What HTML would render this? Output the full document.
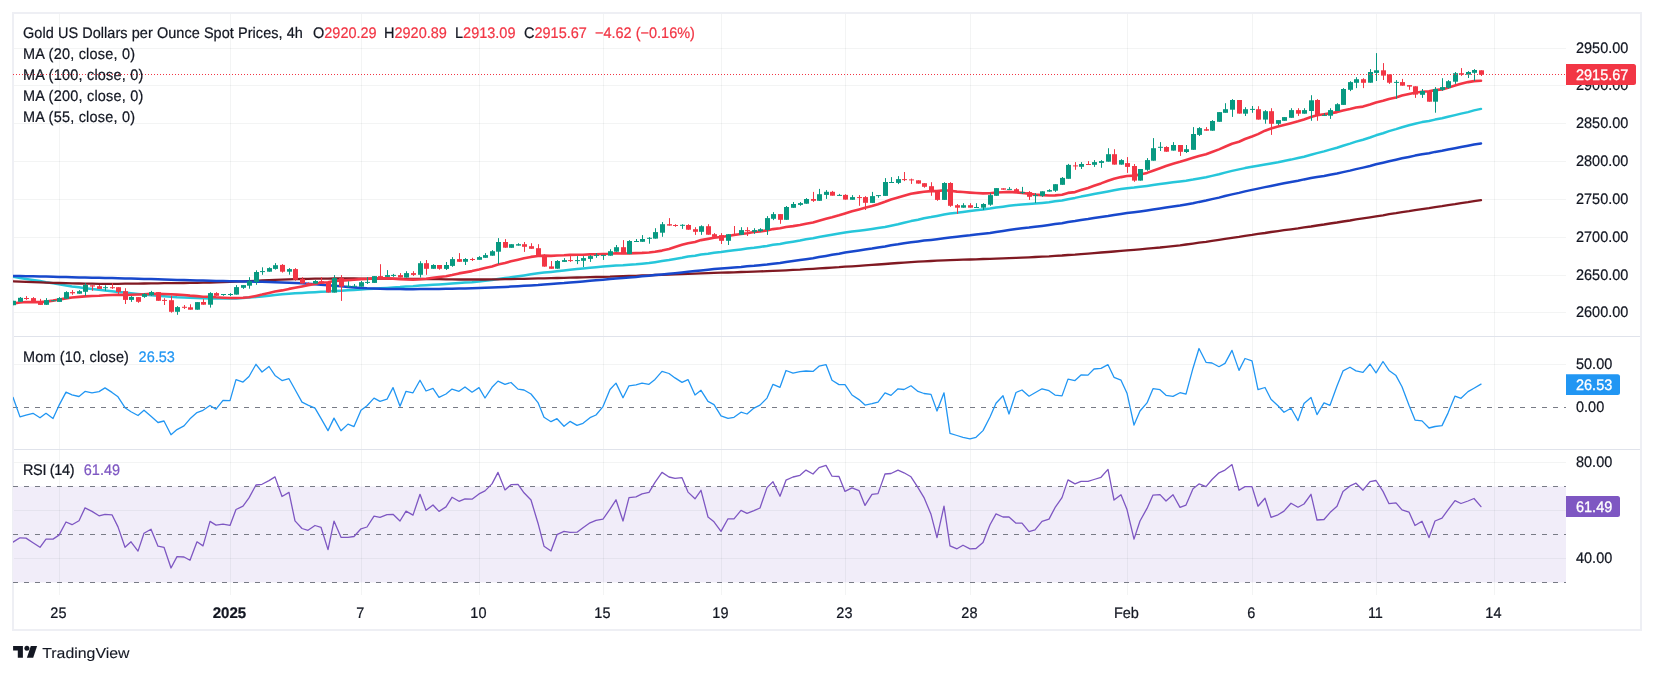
<!DOCTYPE html>
<html><head><meta charset="utf-8"><title>chart</title>
<style>
html,body{margin:0;padding:0;background:#fff;}
body{width:1654px;height:674px;overflow:hidden;position:relative;font-family:"Liberation Sans", sans-serif;}
svg{position:absolute;left:0;top:0;will-change:transform;opacity:0.999;}
text{font-family:"Liberation Sans", sans-serif;text-rendering:geometricPrecision;}
</style></head><body>
<svg width="1654" height="674" viewBox="0 0 1654 674">
<rect x="0" y="0" width="1654" height="674" fill="#ffffff"/>

<rect x="13" y="13" width="1628" height="617" fill="none" stroke="#EEEFF4" stroke-width="2"/>
<rect x="13" y="486.5" width="1553" height="96" fill="#F1EDF9"/>
<rect x="59" y="14" width="1" height="581" fill="#2A2E39" fill-opacity="0.056"/>
<rect x="230" y="14" width="1" height="581" fill="#2A2E39" fill-opacity="0.056"/>
<rect x="361" y="14" width="1" height="581" fill="#2A2E39" fill-opacity="0.056"/>
<rect x="479" y="14" width="1" height="581" fill="#2A2E39" fill-opacity="0.056"/>
<rect x="603" y="14" width="1" height="581" fill="#2A2E39" fill-opacity="0.056"/>
<rect x="721" y="14" width="1" height="581" fill="#2A2E39" fill-opacity="0.056"/>
<rect x="845" y="14" width="1" height="581" fill="#2A2E39" fill-opacity="0.056"/>
<rect x="970" y="14" width="1" height="581" fill="#2A2E39" fill-opacity="0.056"/>
<rect x="1127" y="14" width="1" height="581" fill="#2A2E39" fill-opacity="0.056"/>
<rect x="1252" y="14" width="1" height="581" fill="#2A2E39" fill-opacity="0.056"/>
<rect x="1376" y="14" width="1" height="581" fill="#2A2E39" fill-opacity="0.056"/>
<rect x="1494" y="14" width="1" height="581" fill="#2A2E39" fill-opacity="0.056"/>
<rect x="14" y="48" width="1552" height="1" fill="#2A2E39" fill-opacity="0.056"/>
<rect x="14" y="85" width="1552" height="1" fill="#2A2E39" fill-opacity="0.056"/>
<rect x="14" y="123" width="1552" height="1" fill="#2A2E39" fill-opacity="0.056"/>
<rect x="14" y="161" width="1552" height="1" fill="#2A2E39" fill-opacity="0.056"/>
<rect x="14" y="199" width="1552" height="1" fill="#2A2E39" fill-opacity="0.056"/>
<rect x="14" y="237" width="1552" height="1" fill="#2A2E39" fill-opacity="0.056"/>
<rect x="14" y="275" width="1552" height="1" fill="#2A2E39" fill-opacity="0.056"/>
<rect x="14" y="312" width="1552" height="1" fill="#2A2E39" fill-opacity="0.056"/>
<rect x="14" y="364" width="1552" height="1" fill="#2A2E39" fill-opacity="0.056"/>
<rect x="14" y="462" width="1552" height="1" fill="#2A2E39" fill-opacity="0.056"/>
<rect x="14" y="510" width="1552" height="1" fill="#2A2E39" fill-opacity="0.056"/>
<rect x="14" y="558" width="1552" height="1" fill="#2A2E39" fill-opacity="0.056"/>
<rect x="14" y="336" width="1626" height="1" fill="#E0E3EB"/>
<rect x="14" y="449" width="1626" height="1" fill="#E0E3EB"/>
<line x1="13" y1="407.5" x2="1566" y2="407.5" stroke="#787B86" stroke-width="1" stroke-dasharray="5,6"/>
<line x1="13" y1="486.5" x2="1566" y2="486.5" stroke="#787B86" stroke-width="1" stroke-dasharray="5,6"/>
<line x1="13" y1="534.5" x2="1566" y2="534.5" stroke="#787B86" stroke-width="1" stroke-dasharray="5,6"/>
<line x1="13" y1="582.5" x2="1566" y2="582.5" stroke="#787B86" stroke-width="1" stroke-dasharray="5,6"/>
<defs><clipPath id="pc"><rect x="13" y="14" width="1553" height="581"/></clipPath></defs>
<g clip-path="url(#pc)">
<polyline points="13.6,276.8 20.0,277.9 26.0,278.9 33.0,280.0 40.0,281.1 46.0,282.2 53.0,283.3 59.0,284.3 66.0,285.4 72.0,286.4 79.0,287.3 85.0,288.2 92.0,289.0 99.0,289.8 105.0,290.6 112.0,291.3 118.0,291.9 125.0,292.6 131.0,293.2 138.0,293.9 144.0,294.5 151.0,295.2 158.0,295.8 164.0,296.3 171.0,296.8 177.0,297.2 184.0,297.5 190.0,297.8 197.0,298.1 203.0,298.3 210.0,298.5 216.0,298.6 223.0,298.6 230.0,298.6 236.0,298.4 243.0,298.1 249.0,297.6 256.0,297.0 262.0,296.4 269.0,295.7 275.0,295.0 282.0,294.3 289.0,293.8 295.0,293.3 302.0,292.9 308.0,292.6 315.0,292.2 321.0,291.8 328.0,291.5 334.0,291.1 341.0,290.7 348.0,290.3 354.0,289.9 361.0,289.5 367.0,289.1 374.0,288.7 380.0,288.3 387.0,287.9 393.0,287.5 400.0,287.1 406.0,286.6 413.0,286.2 420.0,285.6 426.0,285.2 433.0,284.7 439.0,284.4 446.0,284.0 452.0,283.6 459.0,283.1 465.0,282.6 472.0,282.2 479.0,281.6 485.0,280.8 492.0,280.0 498.0,278.9 505.0,278.1 511.0,277.3 518.0,276.3 524.0,275.4 531.0,274.2 538.0,273.3 544.0,272.6 551.0,271.9 557.0,271.2 564.0,270.4 570.0,269.8 577.0,269.1 583.0,268.5 590.0,267.8 596.0,267.2 603.0,266.6 610.0,266.1 616.0,265.6 623.0,265.3 629.0,264.8 636.0,264.3 642.0,263.7 649.0,263.1 655.0,262.2 662.0,261.1 669.0,260.0 675.0,258.9 682.0,257.8 688.0,256.6 695.0,255.8 701.0,254.6 708.0,253.7 714.0,252.7 721.0,252.0 728.0,251.1 734.0,250.3 741.0,249.4 747.0,248.6 754.0,247.8 760.0,246.9 767.0,245.9 773.0,244.8 780.0,244.0 786.0,242.8 793.0,241.7 800.0,240.5 806.0,239.3 813.0,238.3 819.0,237.1 826.0,235.8 832.0,234.7 839.0,233.5 845.0,232.5 852.0,231.5 859.0,230.7 865.0,229.9 872.0,229.0 878.0,228.1 885.0,226.9 891.0,225.7 898.0,224.3 904.0,222.7 911.0,221.1 918.0,219.7 924.0,218.3 931.0,217.1 937.0,215.9 944.0,214.6 950.0,213.6 957.0,212.8 963.0,211.9 970.0,211.0 976.0,210.3 983.0,209.4 990.0,208.6 996.0,207.6 1003.0,206.7 1009.0,205.8 1016.0,205.1 1022.0,204.5 1029.0,204.0 1035.0,203.5 1042.0,202.9 1049.0,202.2 1055.0,201.3 1062.0,200.5 1068.0,199.2 1075.0,197.9 1081.0,196.6 1088.0,195.3 1094.0,194.1 1101.0,192.8 1108.0,191.5 1114.0,190.3 1121.0,189.1 1127.0,188.2 1134.0,187.6 1140.0,186.8 1147.0,185.9 1153.0,185.0 1160.0,184.0 1166.0,183.2 1173.0,182.2 1180.0,181.4 1186.0,180.7 1193.0,179.6 1199.0,178.4 1206.0,177.2 1212.0,175.9 1219.0,174.3 1225.0,172.6 1232.0,170.9 1239.0,169.4 1245.0,168.1 1252.0,166.8 1258.0,165.7 1265.0,164.5 1271.0,163.5 1278.0,162.3 1284.0,161.0 1291.0,159.6 1298.0,158.0 1304.0,156.7 1311.0,154.7 1317.0,153.1 1324.0,151.4 1330.0,149.6 1337.0,147.8 1343.0,145.7 1350.0,143.6 1356.0,141.6 1363.0,139.7 1370.0,137.5 1376.0,135.3 1383.0,133.2 1389.0,131.1 1396.0,129.1 1402.0,127.2 1409.0,125.3 1415.0,123.7 1422.0,122.1 1429.0,121.0 1435.0,119.6 1442.0,118.2 1448.0,116.7 1455.0,115.1 1461.0,113.6 1468.0,112.1 1474.0,110.4 1481.0,108.9" fill="none" stroke="#26C6DA" stroke-width="2.5" stroke-linejoin="round" stroke-linecap="round" />
<polyline points="13.6,281.3 20.0,281.6 26.0,281.8 33.0,282.1 40.0,282.3 46.0,282.6 53.0,282.8 59.0,283.0 66.0,283.2 72.0,283.4 79.0,283.5 85.0,283.7 92.0,283.7 99.0,283.8 105.0,283.8 112.0,283.8 118.0,283.8 125.0,283.7 131.0,283.6 138.0,283.6 144.0,283.5 151.0,283.4 158.0,283.3 164.0,283.2 171.0,283.2 177.0,283.1 184.0,283.0 190.0,282.9 197.0,282.8 203.0,282.7 210.0,282.5 216.0,282.3 223.0,282.1 230.0,281.9 236.0,281.7 243.0,281.4 249.0,281.1 256.0,280.8 262.0,280.5 269.0,280.2 275.0,279.9 282.0,279.7 289.0,279.4 295.0,279.2 302.0,279.0 308.0,278.9 315.0,278.7 321.0,278.6 328.0,278.6 334.0,278.5 341.0,278.5 348.0,278.5 354.0,278.5 361.0,278.6 367.0,278.6 374.0,278.6 380.0,278.7 387.0,278.7 393.0,278.8 400.0,278.8 406.0,278.9 413.0,279.0 420.0,279.0 426.0,279.1 433.0,279.2 439.0,279.2 446.0,279.3 452.0,279.4 459.0,279.5 465.0,279.5 472.0,279.5 479.0,279.5 485.0,279.5 492.0,279.4 498.0,279.4 505.0,279.2 511.0,279.1 518.0,278.9 524.0,278.8 531.0,278.6 538.0,278.4 544.0,278.3 551.0,278.1 557.0,278.0 564.0,277.8 570.0,277.7 577.0,277.5 583.0,277.4 590.0,277.2 596.0,277.0 603.0,276.8 610.0,276.7 616.0,276.4 623.0,276.2 629.0,276.0 636.0,275.8 642.0,275.5 649.0,275.3 655.0,275.0 662.0,274.8 669.0,274.5 675.0,274.3 682.0,274.0 688.0,273.8 695.0,273.6 701.0,273.4 708.0,273.2 714.0,272.9 721.0,272.7 728.0,272.5 734.0,272.3 741.0,272.0 747.0,271.8 754.0,271.6 760.0,271.4 767.0,271.1 773.0,270.9 780.0,270.6 786.0,270.3 793.0,269.9 800.0,269.6 806.0,269.2 813.0,268.8 819.0,268.4 826.0,268.0 832.0,267.6 839.0,267.2 845.0,266.7 852.0,266.3 859.0,265.8 865.0,265.4 872.0,264.9 878.0,264.5 885.0,264.0 891.0,263.5 898.0,263.0 904.0,262.6 911.0,262.1 918.0,261.7 924.0,261.4 931.0,261.0 937.0,260.7 944.0,260.4 950.0,260.2 957.0,259.9 963.0,259.7 970.0,259.5 976.0,259.3 983.0,259.0 990.0,258.8 996.0,258.6 1003.0,258.4 1009.0,258.1 1016.0,257.9 1022.0,257.6 1029.0,257.3 1035.0,257.0 1042.0,256.6 1049.0,256.3 1055.0,255.9 1062.0,255.5 1068.0,255.0 1075.0,254.6 1081.0,254.1 1088.0,253.6 1094.0,253.1 1101.0,252.5 1108.0,252.0 1114.0,251.5 1121.0,250.9 1127.0,250.4 1134.0,249.8 1140.0,249.3 1147.0,248.7 1153.0,248.1 1160.0,247.5 1166.0,246.8 1173.0,246.1 1180.0,245.4 1186.0,244.5 1193.0,243.6 1199.0,242.7 1206.0,241.8 1212.0,240.8 1219.0,239.8 1225.0,238.9 1232.0,237.9 1239.0,236.9 1245.0,235.9 1252.0,234.9 1258.0,233.9 1265.0,233.0 1271.0,232.0 1278.0,231.1 1284.0,230.2 1291.0,229.3 1298.0,228.4 1304.0,227.4 1311.0,226.5 1317.0,225.5 1324.0,224.5 1330.0,223.5 1337.0,222.5 1343.0,221.5 1350.0,220.5 1356.0,219.4 1363.0,218.4 1370.0,217.3 1376.0,216.3 1383.0,215.3 1389.0,214.2 1396.0,213.2 1402.0,212.2 1409.0,211.2 1415.0,210.2 1422.0,209.2 1429.0,208.2 1435.0,207.2 1442.0,206.2 1448.0,205.2 1455.0,204.2 1461.0,203.1 1468.0,202.1 1474.0,201.1 1481.0,200.1" fill="none" stroke="#801922" stroke-width="2.3" stroke-linejoin="round" stroke-linecap="round" />
<polyline points="13.6,275.9 20.0,276.0 26.0,276.2 33.0,276.3 40.0,276.5 46.0,276.6 53.0,276.8 59.0,276.9 66.0,277.1 72.0,277.2 79.0,277.4 85.0,277.5 92.0,277.7 99.0,277.8 105.0,278.0 112.0,278.1 118.0,278.3 125.0,278.4 131.0,278.6 138.0,278.8 144.0,278.9 151.0,279.1 158.0,279.3 164.0,279.5 171.0,279.7 177.0,279.9 184.0,280.1 190.0,280.3 197.0,280.5 203.0,280.6 210.0,280.8 216.0,280.9 223.0,281.0 230.0,281.2 236.0,281.3 243.0,281.4 249.0,281.5 256.0,281.7 262.0,281.8 269.0,282.0 275.0,282.2 282.0,282.4 289.0,282.7 295.0,283.0 302.0,283.3 308.0,283.7 315.0,284.2 321.0,284.7 328.0,285.2 334.0,285.8 341.0,286.3 348.0,286.9 354.0,287.4 361.0,287.9 367.0,288.3 374.0,288.6 380.0,288.8 387.0,289.0 393.0,289.1 400.0,289.1 406.0,289.2 413.0,289.2 420.0,289.1 426.0,289.1 433.0,289.0 439.0,288.9 446.0,288.8 452.0,288.7 459.0,288.5 465.0,288.4 472.0,288.2 479.0,288.0 485.0,287.7 492.0,287.5 498.0,287.2 505.0,286.9 511.0,286.6 518.0,286.2 524.0,285.8 531.0,285.4 538.0,285.0 544.0,284.5 551.0,284.0 557.0,283.5 564.0,283.0 570.0,282.4 577.0,281.9 583.0,281.4 590.0,280.8 596.0,280.3 603.0,279.7 610.0,279.1 616.0,278.6 623.0,278.0 629.0,277.4 636.0,276.9 642.0,276.3 649.0,275.7 655.0,275.1 662.0,274.5 669.0,273.8 675.0,273.2 682.0,272.5 688.0,271.8 695.0,271.1 701.0,270.4 708.0,269.7 714.0,269.1 721.0,268.6 728.0,268.0 734.0,267.4 741.0,266.9 747.0,266.3 754.0,265.8 760.0,265.2 767.0,264.5 773.0,263.7 780.0,262.9 786.0,262.0 793.0,261.0 800.0,260.1 806.0,259.2 813.0,258.2 819.0,257.1 826.0,255.9 832.0,254.8 839.0,253.7 845.0,252.6 852.0,251.5 859.0,250.4 865.0,249.5 872.0,248.5 878.0,247.5 885.0,246.4 891.0,245.3 898.0,244.3 904.0,243.2 911.0,242.3 918.0,241.4 924.0,240.6 931.0,239.9 937.0,239.2 944.0,238.3 950.0,237.6 957.0,236.8 963.0,236.0 970.0,235.3 976.0,234.5 983.0,233.7 990.0,232.9 996.0,231.9 1003.0,230.9 1009.0,230.0 1016.0,229.1 1022.0,228.2 1029.0,227.5 1035.0,226.7 1042.0,225.9 1049.0,225.0 1055.0,224.1 1062.0,223.2 1068.0,222.1 1075.0,221.1 1081.0,220.1 1088.0,219.1 1094.0,218.1 1101.0,217.0 1108.0,216.0 1114.0,215.0 1121.0,214.0 1127.0,213.1 1134.0,212.3 1140.0,211.5 1147.0,210.5 1153.0,209.6 1160.0,208.5 1166.0,207.6 1173.0,206.6 1180.0,205.6 1186.0,204.6 1193.0,203.3 1199.0,201.9 1206.0,200.5 1212.0,199.1 1219.0,197.6 1225.0,196.0 1232.0,194.4 1239.0,192.9 1245.0,191.4 1252.0,189.9 1258.0,188.6 1265.0,187.1 1271.0,185.9 1278.0,184.5 1284.0,183.3 1291.0,182.0 1298.0,180.7 1304.0,179.4 1311.0,178.1 1317.0,177.0 1324.0,175.9 1330.0,174.7 1337.0,173.5 1343.0,172.1 1350.0,170.6 1356.0,169.1 1363.0,167.6 1370.0,166.0 1376.0,164.3 1383.0,162.7 1389.0,161.2 1396.0,159.7 1402.0,158.3 1409.0,156.9 1415.0,155.6 1422.0,154.3 1429.0,153.2 1435.0,151.9 1442.0,150.8 1448.0,149.6 1455.0,148.3 1461.0,147.1 1468.0,145.8 1474.0,144.6 1481.0,143.5" fill="none" stroke="#1848CC" stroke-width="2.5" stroke-linejoin="round" stroke-linecap="round" />
<polyline points="13.6,303.4 20.0,302.5 26.0,302.0 33.0,302.1 40.0,302.1 46.0,301.6 53.0,300.6 59.0,299.5 66.0,298.4 72.0,297.5 79.0,296.9 85.0,296.4 92.0,296.0 99.0,295.7 105.0,295.3 112.0,295.0 118.0,294.9 125.0,295.0 131.0,294.8 138.0,294.5 144.0,294.2 151.0,293.9 158.0,293.9 164.0,294.0 171.0,294.3 177.0,294.6 184.0,295.0 190.0,295.6 197.0,296.1 203.0,296.7 210.0,296.8 216.0,297.3 223.0,297.7 230.0,298.0 236.0,298.0 243.0,297.8 249.0,297.3 256.0,295.9 262.0,294.6 269.0,292.9 275.0,291.5 282.0,290.4 289.0,288.9 295.0,287.8 302.0,286.4 308.0,285.3 315.0,283.9 321.0,282.6 328.0,282.2 334.0,280.9 341.0,280.6 348.0,280.1 354.0,279.7 361.0,279.1 367.0,278.9 374.0,278.4 380.0,278.2 387.0,278.4 393.0,278.6 400.0,279.1 406.0,279.5 413.0,279.6 420.0,279.3 426.0,278.8 433.0,277.8 439.0,277.0 446.0,276.2 452.0,275.0 459.0,273.4 465.0,272.4 472.0,271.1 479.0,269.6 485.0,268.0 492.0,266.4 498.0,264.4 505.0,263.0 511.0,261.3 518.0,259.7 524.0,258.3 531.0,256.9 538.0,256.0 544.0,255.6 551.0,255.9 557.0,255.5 564.0,255.3 570.0,254.9 577.0,254.7 583.0,254.7 590.0,254.4 596.0,254.2 603.0,254.0 610.0,253.7 616.0,253.3 623.0,253.5 629.0,253.4 636.0,253.1 642.0,252.9 649.0,252.5 655.0,251.8 662.0,250.6 669.0,249.1 675.0,247.0 682.0,244.8 688.0,243.3 695.0,241.9 701.0,240.1 708.0,238.9 714.0,237.8 721.0,237.0 728.0,236.0 734.0,235.0 741.0,234.0 747.0,233.2 754.0,232.0 760.0,231.5 767.0,230.4 773.0,229.1 780.0,228.3 786.0,227.0 793.0,226.1 800.0,225.0 806.0,223.7 813.0,222.5 819.0,220.7 826.0,218.8 832.0,217.3 839.0,215.3 845.0,213.4 852.0,211.2 859.0,209.4 865.0,207.8 872.0,206.1 878.0,204.3 885.0,201.8 891.0,199.5 898.0,197.5 904.0,195.8 911.0,193.8 918.0,192.6 924.0,191.7 931.0,191.1 937.0,191.1 944.0,190.2 950.0,190.8 957.0,191.6 963.0,192.0 970.0,192.6 976.0,193.0 983.0,193.4 990.0,193.2 996.0,192.5 1003.0,192.2 1009.0,191.9 1016.0,192.4 1022.0,192.9 1029.0,193.8 1035.0,194.6 1042.0,195.1 1049.0,195.5 1055.0,195.4 1062.0,194.7 1068.0,192.9 1075.0,192.1 1081.0,190.1 1088.0,187.9 1094.0,185.8 1101.0,183.4 1108.0,180.8 1114.0,178.8 1121.0,177.1 1127.0,176.0 1134.0,175.6 1140.0,174.6 1147.0,172.9 1153.0,170.7 1160.0,168.2 1166.0,166.0 1173.0,163.7 1180.0,161.8 1186.0,160.0 1193.0,157.8 1199.0,156.0 1206.0,154.2 1212.0,152.0 1219.0,149.4 1225.0,146.8 1232.0,143.7 1239.0,141.7 1245.0,139.0 1252.0,136.5 1258.0,134.1 1265.0,130.7 1271.0,128.5 1278.0,126.5 1284.0,125.0 1291.0,123.2 1298.0,121.3 1304.0,119.5 1311.0,117.0 1317.0,115.3 1324.0,114.3 1330.0,113.4 1337.0,112.1 1343.0,110.5 1350.0,109.0 1356.0,107.5 1363.0,106.6 1370.0,104.5 1376.0,102.5 1383.0,100.8 1389.0,99.0 1396.0,97.5 1402.0,95.6 1409.0,93.9 1415.0,92.7 1422.0,91.8 1429.0,91.2 1435.0,90.1 1442.0,89.4 1448.0,87.7 1455.0,85.6 1461.0,83.8 1468.0,82.1 1474.0,81.1 1481.0,80.7" fill="none" stroke="#F23645" stroke-width="2.6" stroke-linejoin="round" stroke-linecap="round" />
<rect x="13" y="300.8" width="1" height="4.4" fill="#089981"/>
<rect x="11" y="300.8" width="5" height="4.4" fill="#089981"/>
<rect x="20" y="297.0" width="1" height="4.9" fill="#089981"/>
<rect x="18" y="297.8" width="5" height="4.0" fill="#089981"/>
<rect x="26" y="296.1" width="1" height="3.8" fill="#F23645"/>
<rect x="24" y="298.0" width="5" height="1.0" fill="#F23645"/>
<rect x="33" y="297.1" width="1" height="4.7" fill="#F23645"/>
<rect x="31" y="298.1" width="5" height="3.8" fill="#F23645"/>
<rect x="40" y="298.9" width="1" height="5.9" fill="#F23645"/>
<rect x="38" y="301.3" width="5" height="3.6" fill="#F23645"/>
<rect x="46" y="298.1" width="1" height="6.8" fill="#089981"/>
<rect x="44" y="300.1" width="5" height="4.7" fill="#089981"/>
<rect x="53" y="300.2" width="1" height="1.0" fill="#089981"/>
<rect x="51" y="300.2" width="5" height="1.0" fill="#089981"/>
<rect x="59" y="297.1" width="1" height="4.7" fill="#089981"/>
<rect x="57" y="298.1" width="5" height="3.8" fill="#089981"/>
<rect x="66" y="291.2" width="1" height="7.6" fill="#089981"/>
<rect x="64" y="292.1" width="5" height="6.6" fill="#089981"/>
<rect x="72" y="290.1" width="1" height="4.7" fill="#F23645"/>
<rect x="70" y="292.1" width="5" height="1.2" fill="#F23645"/>
<rect x="79" y="290.1" width="1" height="3.6" fill="#089981"/>
<rect x="77" y="291.2" width="5" height="2.5" fill="#089981"/>
<rect x="85" y="283.2" width="1" height="12.7" fill="#089981"/>
<rect x="83" y="285.0" width="5" height="6.8" fill="#089981"/>
<rect x="92" y="285.3" width="1" height="5.5" fill="#F23645"/>
<rect x="90" y="285.3" width="5" height="1.2" fill="#F23645"/>
<rect x="99" y="285.0" width="1" height="3.9" fill="#F23645"/>
<rect x="97" y="286.2" width="5" height="2.7" fill="#F23645"/>
<rect x="105" y="285.3" width="1" height="5.5" fill="#089981"/>
<rect x="103" y="287.2" width="5" height="1.0" fill="#089981"/>
<rect x="112" y="283.2" width="1" height="5.7" fill="#F23645"/>
<rect x="110" y="287.2" width="5" height="1.0" fill="#F23645"/>
<rect x="118" y="287.2" width="1" height="7.4" fill="#F23645"/>
<rect x="116" y="287.2" width="5" height="4.7" fill="#F23645"/>
<rect x="125" y="288.2" width="1" height="15.8" fill="#F23645"/>
<rect x="123" y="291.2" width="5" height="8.7" fill="#F23645"/>
<rect x="131" y="296.1" width="1" height="5.8" fill="#089981"/>
<rect x="129" y="296.9" width="5" height="3.0" fill="#089981"/>
<rect x="138" y="297.1" width="1" height="5.7" fill="#F23645"/>
<rect x="136" y="297.1" width="5" height="4.7" fill="#F23645"/>
<rect x="144" y="293.1" width="1" height="4.7" fill="#089981"/>
<rect x="142" y="293.9" width="5" height="3.0" fill="#089981"/>
<rect x="151" y="290.9" width="1" height="5.0" fill="#089981"/>
<rect x="149" y="292.1" width="5" height="3.0" fill="#089981"/>
<rect x="158" y="292.1" width="1" height="8.7" fill="#F23645"/>
<rect x="156" y="292.1" width="5" height="8.7" fill="#F23645"/>
<rect x="164" y="298.2" width="1" height="6.8" fill="#F23645"/>
<rect x="162" y="299.9" width="5" height="1.0" fill="#F23645"/>
<rect x="171" y="295.8" width="1" height="16.9" fill="#F23645"/>
<rect x="169" y="300.2" width="5" height="11.6" fill="#F23645"/>
<rect x="177" y="306.1" width="1" height="8.7" fill="#089981"/>
<rect x="175" y="307.1" width="5" height="4.7" fill="#089981"/>
<rect x="184" y="305.0" width="1" height="4.0" fill="#F23645"/>
<rect x="182" y="306.8" width="5" height="1.0" fill="#F23645"/>
<rect x="190" y="304.3" width="1" height="5.3" fill="#F23645"/>
<rect x="188" y="307.3" width="5" height="2.4" fill="#F23645"/>
<rect x="197" y="302.1" width="1" height="7.6" fill="#089981"/>
<rect x="195" y="302.1" width="5" height="7.6" fill="#089981"/>
<rect x="203" y="299.1" width="1" height="5.6" fill="#F23645"/>
<rect x="201" y="302.0" width="5" height="2.7" fill="#F23645"/>
<rect x="210" y="292.2" width="1" height="15.4" fill="#089981"/>
<rect x="208" y="293.1" width="5" height="11.6" fill="#089981"/>
<rect x="216" y="292.2" width="1" height="3.6" fill="#F23645"/>
<rect x="214" y="293.1" width="5" height="2.7" fill="#F23645"/>
<rect x="223" y="294.0" width="1" height="1.8" fill="#089981"/>
<rect x="221" y="294.0" width="5" height="1.0" fill="#089981"/>
<rect x="230" y="293.1" width="1" height="3.0" fill="#089981"/>
<rect x="228" y="294.0" width="5" height="1.0" fill="#089981"/>
<rect x="236" y="285.1" width="1" height="9.5" fill="#089981"/>
<rect x="234" y="287.1" width="5" height="7.5" fill="#089981"/>
<rect x="243" y="285.1" width="1" height="3.8" fill="#089981"/>
<rect x="241" y="285.1" width="5" height="2.7" fill="#089981"/>
<rect x="249" y="277.2" width="1" height="11.5" fill="#089981"/>
<rect x="247" y="281.2" width="5" height="4.5" fill="#089981"/>
<rect x="256" y="270.3" width="1" height="14.5" fill="#089981"/>
<rect x="254" y="272.0" width="5" height="9.9" fill="#089981"/>
<rect x="262" y="267.3" width="1" height="7.5" fill="#089981"/>
<rect x="260" y="271.1" width="5" height="1.0" fill="#089981"/>
<rect x="269" y="267.3" width="1" height="4.4" fill="#089981"/>
<rect x="267" y="268.1" width="5" height="3.6" fill="#089981"/>
<rect x="275" y="263.1" width="1" height="6.5" fill="#089981"/>
<rect x="273" y="265.2" width="5" height="3.7" fill="#089981"/>
<rect x="282" y="264.1" width="1" height="8.5" fill="#F23645"/>
<rect x="280" y="264.9" width="5" height="6.8" fill="#F23645"/>
<rect x="289" y="268.1" width="1" height="6.6" fill="#089981"/>
<rect x="287" y="269.1" width="5" height="2.6" fill="#089981"/>
<rect x="295" y="268.1" width="1" height="12.6" fill="#F23645"/>
<rect x="293" y="269.1" width="5" height="10.7" fill="#F23645"/>
<rect x="302" y="277.2" width="1" height="6.4" fill="#F23645"/>
<rect x="300" y="278.9" width="5" height="4.6" fill="#F23645"/>
<rect x="308" y="282.4" width="1" height="1.5" fill="#F23645"/>
<rect x="306" y="283.1" width="5" height="1.0" fill="#F23645"/>
<rect x="315" y="280.1" width="1" height="3.6" fill="#089981"/>
<rect x="313" y="281.0" width="5" height="2.6" fill="#089981"/>
<rect x="321" y="277.1" width="1" height="6.3" fill="#F23645"/>
<rect x="319" y="281.3" width="5" height="2.1" fill="#F23645"/>
<rect x="328" y="282.2" width="1" height="10.3" fill="#F23645"/>
<rect x="326" y="282.2" width="5" height="10.3" fill="#F23645"/>
<rect x="334" y="275.1" width="1" height="17.4" fill="#089981"/>
<rect x="332" y="278.1" width="5" height="14.5" fill="#089981"/>
<rect x="341" y="275.1" width="1" height="25.8" fill="#F23645"/>
<rect x="339" y="278.1" width="5" height="8.5" fill="#F23645"/>
<rect x="348" y="281.3" width="1" height="6.3" fill="#089981"/>
<rect x="346" y="285.8" width="5" height="1.0" fill="#089981"/>
<rect x="354" y="284.0" width="1" height="2.6" fill="#089981"/>
<rect x="352" y="285.8" width="5" height="1.0" fill="#089981"/>
<rect x="361" y="281.0" width="1" height="5.7" fill="#089981"/>
<rect x="359" y="282.2" width="5" height="4.5" fill="#089981"/>
<rect x="367" y="277.1" width="1" height="6.9" fill="#089981"/>
<rect x="365" y="281.9" width="5" height="1.0" fill="#089981"/>
<rect x="374" y="276.1" width="1" height="6.8" fill="#089981"/>
<rect x="372" y="276.1" width="5" height="6.8" fill="#089981"/>
<rect x="380" y="264.2" width="1" height="13.3" fill="#F23645"/>
<rect x="378" y="276.1" width="5" height="1.4" fill="#F23645"/>
<rect x="387" y="270.1" width="1" height="6.8" fill="#089981"/>
<rect x="385" y="275.1" width="5" height="1.8" fill="#089981"/>
<rect x="393" y="273.9" width="1" height="3.0" fill="#089981"/>
<rect x="391" y="274.9" width="5" height="1.0" fill="#089981"/>
<rect x="400" y="273.1" width="1" height="4.4" fill="#F23645"/>
<rect x="398" y="275.1" width="5" height="2.4" fill="#F23645"/>
<rect x="406" y="271.2" width="1" height="6.3" fill="#089981"/>
<rect x="404" y="273.1" width="5" height="4.4" fill="#089981"/>
<rect x="413" y="271.2" width="1" height="4.7" fill="#F23645"/>
<rect x="411" y="273.1" width="5" height="1.8" fill="#F23645"/>
<rect x="420" y="261.2" width="1" height="16.3" fill="#089981"/>
<rect x="418" y="263.2" width="5" height="11.6" fill="#089981"/>
<rect x="426" y="260.0" width="1" height="14.8" fill="#F23645"/>
<rect x="424" y="263.2" width="5" height="5.6" fill="#F23645"/>
<rect x="433" y="264.2" width="1" height="4.6" fill="#089981"/>
<rect x="431" y="265.0" width="5" height="3.8" fill="#089981"/>
<rect x="439" y="265.0" width="1" height="4.7" fill="#F23645"/>
<rect x="437" y="265.0" width="5" height="3.8" fill="#F23645"/>
<rect x="446" y="262.0" width="1" height="8.0" fill="#089981"/>
<rect x="444" y="265.0" width="5" height="3.9" fill="#089981"/>
<rect x="452" y="257.1" width="1" height="9.7" fill="#089981"/>
<rect x="450" y="259.1" width="5" height="6.8" fill="#089981"/>
<rect x="459" y="253.1" width="1" height="8.7" fill="#F23645"/>
<rect x="457" y="259.1" width="5" height="2.7" fill="#F23645"/>
<rect x="465" y="258.1" width="1" height="6.9" fill="#089981"/>
<rect x="463" y="259.0" width="5" height="2.8" fill="#089981"/>
<rect x="472" y="257.8" width="1" height="3.2" fill="#F23645"/>
<rect x="470" y="259.0" width="5" height="1.0" fill="#F23645"/>
<rect x="479" y="256.1" width="1" height="3.8" fill="#089981"/>
<rect x="477" y="257.1" width="5" height="2.7" fill="#089981"/>
<rect x="485" y="253.1" width="1" height="4.7" fill="#089981"/>
<rect x="483" y="255.1" width="5" height="2.7" fill="#089981"/>
<rect x="492" y="250.1" width="1" height="5.6" fill="#089981"/>
<rect x="490" y="251.2" width="5" height="4.5" fill="#089981"/>
<rect x="498" y="238.1" width="1" height="25.9" fill="#089981"/>
<rect x="496" y="242.0" width="5" height="9.7" fill="#089981"/>
<rect x="505" y="239.1" width="1" height="8.7" fill="#F23645"/>
<rect x="503" y="242.0" width="5" height="5.7" fill="#F23645"/>
<rect x="511" y="244.2" width="1" height="3.6" fill="#089981"/>
<rect x="509" y="244.2" width="5" height="3.6" fill="#089981"/>
<rect x="518" y="243.2" width="1" height="2.4" fill="#089981"/>
<rect x="516" y="244.2" width="5" height="1.4" fill="#089981"/>
<rect x="524" y="242.0" width="1" height="9.9" fill="#F23645"/>
<rect x="522" y="244.2" width="5" height="2.6" fill="#F23645"/>
<rect x="531" y="243.2" width="1" height="5.6" fill="#F23645"/>
<rect x="529" y="246.2" width="5" height="2.6" fill="#F23645"/>
<rect x="538" y="244.2" width="1" height="11.9" fill="#F23645"/>
<rect x="536" y="248.2" width="5" height="7.8" fill="#F23645"/>
<rect x="544" y="254.2" width="1" height="12.5" fill="#F23645"/>
<rect x="542" y="255.7" width="5" height="10.9" fill="#F23645"/>
<rect x="551" y="261.0" width="1" height="7.7" fill="#F23645"/>
<rect x="549" y="266.4" width="5" height="2.4" fill="#F23645"/>
<rect x="557" y="260.1" width="1" height="8.7" fill="#089981"/>
<rect x="555" y="261.0" width="5" height="7.7" fill="#089981"/>
<rect x="564" y="258.1" width="1" height="3.8" fill="#089981"/>
<rect x="562" y="260.1" width="5" height="1.8" fill="#089981"/>
<rect x="570" y="256.1" width="1" height="5.8" fill="#F23645"/>
<rect x="568" y="260.1" width="5" height="1.0" fill="#F23645"/>
<rect x="577" y="256.1" width="1" height="8.0" fill="#089981"/>
<rect x="575" y="260.1" width="5" height="1.0" fill="#089981"/>
<rect x="583" y="256.1" width="1" height="10.9" fill="#089981"/>
<rect x="581" y="258.1" width="5" height="2.7" fill="#089981"/>
<rect x="590" y="255.1" width="1" height="6.8" fill="#089981"/>
<rect x="588" y="256.1" width="5" height="2.8" fill="#089981"/>
<rect x="596" y="253.1" width="1" height="4.7" fill="#089981"/>
<rect x="594" y="254.9" width="5" height="1.0" fill="#089981"/>
<rect x="603" y="254.9" width="1" height="5.0" fill="#089981"/>
<rect x="601" y="254.9" width="5" height="1.0" fill="#089981"/>
<rect x="610" y="249.2" width="1" height="6.5" fill="#089981"/>
<rect x="608" y="251.2" width="5" height="4.5" fill="#089981"/>
<rect x="616" y="245.0" width="1" height="6.8" fill="#089981"/>
<rect x="614" y="247.2" width="5" height="4.5" fill="#089981"/>
<rect x="623" y="240.1" width="1" height="14.0" fill="#F23645"/>
<rect x="621" y="247.2" width="5" height="6.9" fill="#F23645"/>
<rect x="629" y="240.1" width="1" height="14.0" fill="#089981"/>
<rect x="627" y="241.0" width="5" height="13.1" fill="#089981"/>
<rect x="636" y="239.0" width="1" height="2.8" fill="#089981"/>
<rect x="634" y="241.0" width="5" height="1.0" fill="#089981"/>
<rect x="642" y="235.1" width="1" height="6.8" fill="#089981"/>
<rect x="640" y="239.0" width="5" height="2.8" fill="#089981"/>
<rect x="649" y="237.1" width="1" height="6.6" fill="#089981"/>
<rect x="647" y="237.8" width="5" height="1.0" fill="#089981"/>
<rect x="655" y="228.2" width="1" height="10.4" fill="#089981"/>
<rect x="653" y="232.1" width="5" height="6.5" fill="#089981"/>
<rect x="662" y="222.0" width="1" height="14.8" fill="#089981"/>
<rect x="660" y="224.2" width="5" height="8.5" fill="#089981"/>
<rect x="669" y="218.1" width="1" height="7.5" fill="#F23645"/>
<rect x="667" y="224.2" width="5" height="1.4" fill="#F23645"/>
<rect x="675" y="224.2" width="1" height="2.6" fill="#F23645"/>
<rect x="673" y="225.0" width="5" height="1.0" fill="#F23645"/>
<rect x="682" y="224.2" width="1" height="4.7" fill="#089981"/>
<rect x="680" y="224.8" width="5" height="1.0" fill="#089981"/>
<rect x="688" y="224.2" width="1" height="5.6" fill="#F23645"/>
<rect x="686" y="225.0" width="5" height="4.7" fill="#F23645"/>
<rect x="695" y="227.2" width="1" height="7.7" fill="#F23645"/>
<rect x="693" y="229.2" width="5" height="2.6" fill="#F23645"/>
<rect x="701" y="225.3" width="1" height="9.6" fill="#089981"/>
<rect x="699" y="226.2" width="5" height="5.6" fill="#089981"/>
<rect x="708" y="224.2" width="1" height="10.6" fill="#F23645"/>
<rect x="706" y="226.2" width="5" height="8.5" fill="#F23645"/>
<rect x="714" y="233.1" width="1" height="3.8" fill="#F23645"/>
<rect x="712" y="234.2" width="5" height="2.7" fill="#F23645"/>
<rect x="721" y="233.1" width="1" height="10.9" fill="#F23645"/>
<rect x="719" y="235.1" width="5" height="5.7" fill="#F23645"/>
<rect x="728" y="234.2" width="1" height="10.8" fill="#089981"/>
<rect x="726" y="234.2" width="5" height="6.6" fill="#089981"/>
<rect x="734" y="226.0" width="1" height="8.9" fill="#F23645"/>
<rect x="732" y="233.9" width="5" height="1.0" fill="#F23645"/>
<rect x="741" y="227.2" width="1" height="7.7" fill="#089981"/>
<rect x="739" y="230.1" width="5" height="4.7" fill="#089981"/>
<rect x="747" y="227.2" width="1" height="8.8" fill="#F23645"/>
<rect x="745" y="230.1" width="5" height="1.1" fill="#F23645"/>
<rect x="754" y="228.2" width="1" height="5.7" fill="#089981"/>
<rect x="752" y="230.1" width="5" height="1.7" fill="#089981"/>
<rect x="760" y="228.2" width="1" height="3.9" fill="#089981"/>
<rect x="758" y="229.2" width="5" height="2.0" fill="#089981"/>
<rect x="767" y="216.1" width="1" height="18.8" fill="#089981"/>
<rect x="765" y="218.1" width="5" height="11.9" fill="#089981"/>
<rect x="773" y="212.1" width="1" height="8.0" fill="#089981"/>
<rect x="771" y="214.1" width="5" height="4.7" fill="#089981"/>
<rect x="780" y="214.1" width="1" height="9.7" fill="#F23645"/>
<rect x="778" y="214.1" width="5" height="5.7" fill="#F23645"/>
<rect x="786" y="206.0" width="1" height="13.8" fill="#089981"/>
<rect x="784" y="207.0" width="5" height="12.8" fill="#089981"/>
<rect x="793" y="202.0" width="1" height="5.8" fill="#089981"/>
<rect x="791" y="204.0" width="5" height="3.8" fill="#089981"/>
<rect x="800" y="202.0" width="1" height="3.8" fill="#089981"/>
<rect x="798" y="203.1" width="5" height="1.8" fill="#089981"/>
<rect x="806" y="198.1" width="1" height="5.7" fill="#089981"/>
<rect x="804" y="199.0" width="5" height="4.7" fill="#089981"/>
<rect x="813" y="191.9" width="1" height="10.0" fill="#F23645"/>
<rect x="811" y="199.0" width="5" height="1.8" fill="#F23645"/>
<rect x="819" y="188.9" width="1" height="11.9" fill="#089981"/>
<rect x="817" y="194.2" width="5" height="6.6" fill="#089981"/>
<rect x="826" y="190.1" width="1" height="8.8" fill="#089981"/>
<rect x="824" y="191.8" width="5" height="3.1" fill="#089981"/>
<rect x="832" y="190.9" width="1" height="4.7" fill="#F23645"/>
<rect x="830" y="191.8" width="5" height="3.9" fill="#F23645"/>
<rect x="839" y="193.9" width="1" height="1.8" fill="#089981"/>
<rect x="837" y="194.9" width="5" height="1.0" fill="#089981"/>
<rect x="845" y="194.2" width="1" height="5.5" fill="#F23645"/>
<rect x="843" y="194.9" width="5" height="4.7" fill="#F23645"/>
<rect x="852" y="195.1" width="1" height="4.7" fill="#089981"/>
<rect x="850" y="197.1" width="5" height="2.7" fill="#089981"/>
<rect x="859" y="195.1" width="1" height="10.7" fill="#F23645"/>
<rect x="857" y="197.1" width="5" height="1.0" fill="#F23645"/>
<rect x="865" y="196.1" width="1" height="13.9" fill="#F23645"/>
<rect x="863" y="197.1" width="5" height="5.7" fill="#F23645"/>
<rect x="872" y="191.9" width="1" height="10.9" fill="#089981"/>
<rect x="870" y="196.1" width="5" height="6.8" fill="#089981"/>
<rect x="878" y="195.1" width="1" height="2.7" fill="#089981"/>
<rect x="876" y="195.1" width="5" height="1.0" fill="#089981"/>
<rect x="885" y="178.1" width="1" height="17.8" fill="#089981"/>
<rect x="883" y="182.0" width="5" height="13.9" fill="#089981"/>
<rect x="891" y="177.1" width="1" height="5.8" fill="#089981"/>
<rect x="889" y="182.0" width="5" height="1.0" fill="#089981"/>
<rect x="898" y="176.1" width="1" height="8.0" fill="#089981"/>
<rect x="896" y="179.1" width="5" height="3.8" fill="#089981"/>
<rect x="904" y="172.0" width="1" height="9.1" fill="#F23645"/>
<rect x="902" y="179.1" width="5" height="1.0" fill="#F23645"/>
<rect x="911" y="178.6" width="1" height="5.3" fill="#F23645"/>
<rect x="909" y="179.4" width="5" height="1.0" fill="#F23645"/>
<rect x="918" y="180.3" width="1" height="3.3" fill="#F23645"/>
<rect x="916" y="180.3" width="5" height="3.3" fill="#F23645"/>
<rect x="924" y="183.2" width="1" height="4.5" fill="#F23645"/>
<rect x="922" y="183.2" width="5" height="3.6" fill="#F23645"/>
<rect x="931" y="182.2" width="1" height="13.6" fill="#F23645"/>
<rect x="929" y="186.2" width="5" height="5.7" fill="#F23645"/>
<rect x="937" y="191.1" width="1" height="9.7" fill="#F23645"/>
<rect x="935" y="191.1" width="5" height="8.8" fill="#F23645"/>
<rect x="944" y="182.2" width="1" height="17.7" fill="#089981"/>
<rect x="942" y="183.0" width="5" height="16.9" fill="#089981"/>
<rect x="950" y="182.2" width="1" height="24.6" fill="#F23645"/>
<rect x="948" y="183.0" width="5" height="22.8" fill="#F23645"/>
<rect x="957" y="204.0" width="1" height="9.9" fill="#F23645"/>
<rect x="955" y="205.2" width="5" height="2.5" fill="#F23645"/>
<rect x="963" y="203.2" width="1" height="4.5" fill="#089981"/>
<rect x="961" y="205.2" width="5" height="2.5" fill="#089981"/>
<rect x="970" y="203.2" width="1" height="4.5" fill="#F23645"/>
<rect x="968" y="205.2" width="5" height="2.5" fill="#F23645"/>
<rect x="976" y="203.2" width="1" height="4.5" fill="#089981"/>
<rect x="974" y="207.0" width="5" height="1.0" fill="#089981"/>
<rect x="983" y="203.2" width="1" height="6.8" fill="#089981"/>
<rect x="981" y="204.0" width="5" height="3.7" fill="#089981"/>
<rect x="990" y="193.1" width="1" height="12.7" fill="#089981"/>
<rect x="988" y="195.1" width="5" height="9.6" fill="#089981"/>
<rect x="996" y="188.1" width="1" height="7.7" fill="#089981"/>
<rect x="994" y="188.1" width="5" height="7.7" fill="#089981"/>
<rect x="1003" y="188.3" width="1" height="1.4" fill="#F23645"/>
<rect x="1001" y="188.3" width="5" height="1.4" fill="#F23645"/>
<rect x="1009" y="187.1" width="1" height="2.6" fill="#089981"/>
<rect x="1007" y="188.9" width="5" height="1.0" fill="#089981"/>
<rect x="1016" y="188.1" width="1" height="4.7" fill="#F23645"/>
<rect x="1014" y="189.2" width="5" height="3.7" fill="#F23645"/>
<rect x="1022" y="186.9" width="1" height="7.1" fill="#089981"/>
<rect x="1020" y="192.1" width="5" height="1.0" fill="#089981"/>
<rect x="1029" y="191.1" width="1" height="8.8" fill="#F23645"/>
<rect x="1027" y="192.1" width="5" height="4.7" fill="#F23645"/>
<rect x="1035" y="193.1" width="1" height="9.9" fill="#089981"/>
<rect x="1033" y="195.1" width="5" height="1.0" fill="#089981"/>
<rect x="1042" y="191.3" width="1" height="5.6" fill="#089981"/>
<rect x="1040" y="191.3" width="5" height="4.5" fill="#089981"/>
<rect x="1049" y="189.2" width="1" height="2.5" fill="#089981"/>
<rect x="1047" y="190.1" width="5" height="1.5" fill="#089981"/>
<rect x="1055" y="184.2" width="1" height="7.7" fill="#089981"/>
<rect x="1053" y="184.2" width="5" height="6.5" fill="#089981"/>
<rect x="1062" y="177.0" width="1" height="7.8" fill="#089981"/>
<rect x="1060" y="177.9" width="5" height="6.9" fill="#089981"/>
<rect x="1068" y="163.9" width="1" height="14.8" fill="#089981"/>
<rect x="1066" y="164.9" width="5" height="13.9" fill="#089981"/>
<rect x="1075" y="162.1" width="1" height="7.7" fill="#F23645"/>
<rect x="1073" y="165.4" width="5" height="1.0" fill="#F23645"/>
<rect x="1081" y="162.1" width="1" height="6.9" fill="#089981"/>
<rect x="1079" y="164.0" width="5" height="2.8" fill="#089981"/>
<rect x="1088" y="161.1" width="1" height="3.6" fill="#F23645"/>
<rect x="1086" y="164.0" width="5" height="1.0" fill="#F23645"/>
<rect x="1094" y="160.1" width="1" height="6.8" fill="#089981"/>
<rect x="1092" y="162.1" width="5" height="2.7" fill="#089981"/>
<rect x="1101" y="160.1" width="1" height="7.7" fill="#089981"/>
<rect x="1099" y="161.1" width="5" height="1.8" fill="#089981"/>
<rect x="1108" y="148.2" width="1" height="13.4" fill="#089981"/>
<rect x="1106" y="154.2" width="5" height="7.5" fill="#089981"/>
<rect x="1114" y="149.2" width="1" height="15.4" fill="#F23645"/>
<rect x="1112" y="154.2" width="5" height="10.4" fill="#F23645"/>
<rect x="1121" y="159.2" width="1" height="5.5" fill="#089981"/>
<rect x="1119" y="160.1" width="5" height="4.5" fill="#089981"/>
<rect x="1127" y="157.1" width="1" height="15.8" fill="#F23645"/>
<rect x="1125" y="163.1" width="5" height="3.8" fill="#F23645"/>
<rect x="1134" y="164.0" width="1" height="17.8" fill="#F23645"/>
<rect x="1132" y="166.0" width="5" height="14.6" fill="#F23645"/>
<rect x="1140" y="169.0" width="1" height="11.6" fill="#089981"/>
<rect x="1138" y="169.0" width="5" height="11.6" fill="#089981"/>
<rect x="1147" y="158.1" width="1" height="12.7" fill="#089981"/>
<rect x="1145" y="160.1" width="5" height="9.7" fill="#089981"/>
<rect x="1153" y="138.1" width="1" height="22.6" fill="#089981"/>
<rect x="1151" y="148.2" width="5" height="12.5" fill="#089981"/>
<rect x="1160" y="142.1" width="1" height="8.9" fill="#089981"/>
<rect x="1158" y="146.8" width="5" height="1.0" fill="#089981"/>
<rect x="1166" y="146.2" width="1" height="5.6" fill="#F23645"/>
<rect x="1164" y="147.0" width="5" height="4.7" fill="#F23645"/>
<rect x="1173" y="142.1" width="1" height="8.5" fill="#089981"/>
<rect x="1171" y="145.0" width="5" height="5.6" fill="#089981"/>
<rect x="1180" y="145.0" width="1" height="10.9" fill="#F23645"/>
<rect x="1178" y="145.0" width="5" height="6.8" fill="#F23645"/>
<rect x="1186" y="145.0" width="1" height="8.0" fill="#089981"/>
<rect x="1184" y="149.2" width="5" height="2.8" fill="#089981"/>
<rect x="1193" y="127.1" width="1" height="22.7" fill="#089981"/>
<rect x="1191" y="134.0" width="5" height="15.8" fill="#089981"/>
<rect x="1199" y="127.1" width="1" height="8.9" fill="#089981"/>
<rect x="1197" y="128.1" width="5" height="6.8" fill="#089981"/>
<rect x="1206" y="127.1" width="1" height="3.7" fill="#F23645"/>
<rect x="1204" y="129.2" width="5" height="1.5" fill="#F23645"/>
<rect x="1212" y="120.1" width="1" height="10.7" fill="#089981"/>
<rect x="1210" y="121.0" width="5" height="9.7" fill="#089981"/>
<rect x="1219" y="112.1" width="1" height="9.7" fill="#089981"/>
<rect x="1217" y="112.1" width="5" height="9.7" fill="#089981"/>
<rect x="1225" y="103.2" width="1" height="9.5" fill="#089981"/>
<rect x="1223" y="109.2" width="5" height="3.6" fill="#089981"/>
<rect x="1232" y="99.1" width="1" height="17.8" fill="#089981"/>
<rect x="1230" y="100.0" width="5" height="9.7" fill="#089981"/>
<rect x="1239" y="100.0" width="1" height="13.6" fill="#F23645"/>
<rect x="1237" y="100.0" width="5" height="13.6" fill="#F23645"/>
<rect x="1245" y="107.2" width="1" height="8.8" fill="#089981"/>
<rect x="1243" y="109.2" width="5" height="4.5" fill="#089981"/>
<rect x="1252" y="106.0" width="1" height="6.8" fill="#089981"/>
<rect x="1250" y="108.9" width="5" height="1.0" fill="#089981"/>
<rect x="1258" y="106.2" width="1" height="13.4" fill="#F23645"/>
<rect x="1256" y="109.2" width="5" height="10.4" fill="#F23645"/>
<rect x="1265" y="110.1" width="1" height="13.6" fill="#089981"/>
<rect x="1263" y="111.2" width="5" height="8.4" fill="#089981"/>
<rect x="1271" y="108.2" width="1" height="26.7" fill="#F23645"/>
<rect x="1269" y="111.2" width="5" height="12.6" fill="#F23645"/>
<rect x="1278" y="120.1" width="1" height="4.9" fill="#089981"/>
<rect x="1276" y="120.1" width="5" height="3.7" fill="#089981"/>
<rect x="1284" y="117.1" width="1" height="3.7" fill="#089981"/>
<rect x="1282" y="117.1" width="5" height="3.7" fill="#089981"/>
<rect x="1291" y="108.2" width="1" height="9.6" fill="#089981"/>
<rect x="1289" y="110.1" width="5" height="7.7" fill="#089981"/>
<rect x="1298" y="108.2" width="1" height="7.7" fill="#F23645"/>
<rect x="1296" y="110.1" width="5" height="3.6" fill="#F23645"/>
<rect x="1304" y="108.2" width="1" height="5.5" fill="#089981"/>
<rect x="1302" y="110.1" width="5" height="3.6" fill="#089981"/>
<rect x="1311" y="95.2" width="1" height="25.6" fill="#089981"/>
<rect x="1309" y="100.3" width="5" height="10.7" fill="#089981"/>
<rect x="1317" y="99.1" width="1" height="21.7" fill="#F23645"/>
<rect x="1315" y="100.0" width="5" height="15.7" fill="#F23645"/>
<rect x="1324" y="113.1" width="1" height="2.6" fill="#089981"/>
<rect x="1322" y="114.9" width="5" height="1.0" fill="#089981"/>
<rect x="1330" y="108.2" width="1" height="10.7" fill="#089981"/>
<rect x="1328" y="110.1" width="5" height="5.6" fill="#089981"/>
<rect x="1337" y="103.2" width="1" height="7.7" fill="#089981"/>
<rect x="1335" y="104.2" width="5" height="6.8" fill="#089981"/>
<rect x="1343" y="88.1" width="1" height="16.9" fill="#089981"/>
<rect x="1341" y="89.0" width="5" height="15.9" fill="#089981"/>
<rect x="1350" y="81.2" width="1" height="9.9" fill="#089981"/>
<rect x="1348" y="82.1" width="5" height="7.7" fill="#089981"/>
<rect x="1356" y="77.2" width="1" height="10.9" fill="#089981"/>
<rect x="1354" y="79.2" width="5" height="3.6" fill="#089981"/>
<rect x="1363" y="78.2" width="1" height="9.9" fill="#F23645"/>
<rect x="1361" y="79.2" width="5" height="3.6" fill="#F23645"/>
<rect x="1370" y="69.1" width="1" height="13.6" fill="#089981"/>
<rect x="1368" y="72.0" width="5" height="10.7" fill="#089981"/>
<rect x="1376" y="53.1" width="1" height="27.9" fill="#089981"/>
<rect x="1374" y="70.3" width="5" height="2.6" fill="#089981"/>
<rect x="1383" y="63.1" width="1" height="16.9" fill="#F23645"/>
<rect x="1381" y="70.3" width="5" height="5.3" fill="#F23645"/>
<rect x="1389" y="74.4" width="1" height="9.5" fill="#F23645"/>
<rect x="1387" y="74.4" width="5" height="8.3" fill="#F23645"/>
<rect x="1396" y="80.1" width="1" height="18.6" fill="#089981"/>
<rect x="1394" y="81.9" width="5" height="1.0" fill="#089981"/>
<rect x="1402" y="78.9" width="1" height="6.8" fill="#F23645"/>
<rect x="1400" y="82.1" width="5" height="3.6" fill="#F23645"/>
<rect x="1409" y="85.1" width="1" height="4.7" fill="#F23645"/>
<rect x="1407" y="85.1" width="5" height="1.5" fill="#F23645"/>
<rect x="1415" y="86.3" width="1" height="11.6" fill="#F23645"/>
<rect x="1413" y="86.3" width="5" height="8.3" fill="#F23645"/>
<rect x="1422" y="89.0" width="1" height="8.9" fill="#089981"/>
<rect x="1420" y="91.0" width="5" height="3.8" fill="#089981"/>
<rect x="1429" y="91.0" width="1" height="10.7" fill="#F23645"/>
<rect x="1427" y="91.0" width="5" height="10.7" fill="#F23645"/>
<rect x="1435" y="87.1" width="1" height="25.6" fill="#089981"/>
<rect x="1433" y="89.0" width="5" height="12.7" fill="#089981"/>
<rect x="1442" y="78.2" width="1" height="12.6" fill="#089981"/>
<rect x="1440" y="87.1" width="5" height="2.7" fill="#089981"/>
<rect x="1448" y="80.1" width="1" height="8.5" fill="#089981"/>
<rect x="1446" y="81.2" width="5" height="6.6" fill="#089981"/>
<rect x="1455" y="72.0" width="1" height="11.9" fill="#089981"/>
<rect x="1453" y="73.2" width="5" height="8.5" fill="#089981"/>
<rect x="1461" y="68.1" width="1" height="7.8" fill="#F23645"/>
<rect x="1459" y="73.2" width="5" height="1.5" fill="#F23645"/>
<rect x="1468" y="71.1" width="1" height="6.9" fill="#089981"/>
<rect x="1466" y="72.0" width="5" height="2.7" fill="#089981"/>
<rect x="1474" y="69.1" width="1" height="11.9" fill="#089981"/>
<rect x="1472" y="70.0" width="5" height="2.8" fill="#089981"/>
<rect x="1481" y="70.3" width="1" height="5.7" fill="#F23645"/>
<rect x="1479" y="70.3" width="5" height="4.5" fill="#F23645"/>
<line x1="13" y1="74.5" x2="1566" y2="74.5" stroke="#F23645" stroke-width="1" stroke-dasharray="1,2"/>
<polyline points="13.0,397.3 20.0,416.9 26.0,415.1 33.0,413.3 40.0,417.8 46.0,413.3 53.0,418.5 59.0,405.4 66.0,392.1 72.0,394.8 79.0,396.5 85.0,391.4 92.0,392.8 99.0,391.6 105.0,387.9 112.0,392.4 118.0,396.8 125.0,407.7 131.0,411.8 138.0,415.5 144.0,410.3 151.0,416.3 158.0,422.5 164.0,421.0 171.0,434.7 177.0,429.6 184.0,425.9 190.0,418.8 197.0,412.6 203.0,410.3 210.0,405.5 216.0,409.2 223.0,400.3 230.0,400.6 236.0,379.6 243.0,382.1 249.0,376.5 256.0,364.3 262.0,372.0 269.0,366.5 275.0,375.4 282.0,380.6 289.0,378.7 295.0,389.5 302.0,402.1 308.0,405.1 315.0,408.1 321.0,418.4 328.0,430.6 334.0,418.1 341.0,430.8 348.0,424.1 354.0,426.6 361.0,410.3 367.0,405.8 374.0,398.1 380.0,401.4 387.0,399.2 393.0,387.6 400.0,406.3 406.0,391.3 413.0,392.8 420.0,380.3 426.0,391.0 433.0,388.3 439.0,397.4 446.0,394.0 452.0,389.1 459.0,391.3 465.0,387.0 472.0,392.2 479.0,387.6 485.0,398.0 492.0,387.3 498.0,381.1 505.0,384.3 511.0,382.5 518.0,389.1 524.0,390.0 531.0,394.0 538.0,402.6 544.0,417.3 551.0,421.7 557.0,418.7 564.0,426.3 570.0,421.4 577.0,425.4 583.0,423.3 590.0,417.7 596.0,415.0 603.0,406.6 610.0,389.5 616.0,383.1 623.0,397.7 629.0,385.8 636.0,384.8 642.0,383.1 649.0,384.3 655.0,379.4 662.0,371.4 669.0,373.5 675.0,377.9 682.0,382.4 688.0,379.6 695.0,395.0 701.0,390.3 708.0,401.4 714.0,404.6 721.0,415.8 728.0,418.4 734.0,417.3 741.0,412.2 747.0,414.0 754.0,408.1 760.0,405.1 767.0,398.1 773.0,384.3 780.0,387.3 786.0,370.5 793.0,373.2 800.0,371.7 806.0,371.0 813.0,371.4 819.0,366.2 826.0,364.6 832.0,380.3 839.0,384.6 845.0,384.6 852.0,395.0 859.0,399.6 865.0,405.1 872.0,403.6 878.0,402.1 885.0,392.9 891.0,395.4 898.0,388.8 904.0,389.5 911.0,385.8 918.0,391.4 924.0,393.5 931.0,394.4 937.0,411.0 944.0,392.8 950.0,433.3 957.0,435.5 963.0,437.3 970.0,438.9 976.0,437.3 983.0,430.6 990.0,417.0 996.0,403.3 1003.0,395.7 1009.0,414.0 1016.0,392.5 1022.0,390.0 1029.0,396.2 1035.0,392.8 1042.0,388.8 1049.0,390.7 1055.0,395.1 1062.0,395.9 1068.0,379.1 1075.0,380.6 1081.0,375.0 1088.0,375.1 1094.0,369.0 1101.0,368.3 1108.0,364.7 1114.0,377.3 1121.0,380.2 1127.0,393.2 1134.0,425.1 1140.0,411.0 1147.0,402.9 1153.0,388.7 1160.0,389.7 1166.0,395.3 1173.0,396.4 1180.0,392.7 1186.0,394.2 1193.0,368.2 1199.0,348.5 1206.0,362.3 1212.0,363.0 1219.0,366.7 1225.0,363.4 1232.0,350.4 1239.0,370.4 1245.0,358.5 1252.0,360.8 1258.0,389.7 1265.0,387.5 1271.0,399.3 1278.0,405.7 1284.0,412.3 1291.0,408.2 1298.0,420.6 1304.0,403.5 1311.0,397.4 1317.0,414.6 1324.0,402.8 1330.0,405.3 1337.0,386.0 1343.0,370.9 1350.0,367.2 1356.0,370.9 1363.0,372.3 1370.0,364.0 1376.0,372.9 1383.0,361.5 1389.0,370.4 1396.0,375.6 1402.0,386.7 1409.0,405.3 1415.0,420.1 1422.0,420.9 1429.0,428.0 1435.0,426.5 1442.0,425.6 1448.0,413.1 1455.0,396.1 1461.0,398.3 1468.0,391.6 1474.0,388.2 1481.0,384.1" fill="none" stroke="#2196F3" stroke-width="1.3" stroke-linejoin="round" stroke-linecap="round" />
<polyline points="13.0,542.1 20.0,537.8 26.0,538.1 33.0,542.8 40.0,547.3 46.0,539.1 53.0,539.1 59.0,535.1 66.0,522.0 72.0,524.7 79.0,520.7 85.0,507.9 92.0,511.4 99.0,515.8 105.0,514.3 112.0,514.8 118.0,526.9 125.0,547.3 131.0,541.8 138.0,551.1 144.0,533.3 151.0,529.2 158.0,546.2 164.0,547.3 171.0,568.0 177.0,556.6 184.0,557.0 190.0,560.3 197.0,541.8 203.0,545.9 210.0,521.4 216.0,525.1 223.0,524.1 230.0,525.4 236.0,509.5 243.0,506.2 249.0,497.9 256.0,485.0 262.0,484.3 269.0,480.6 275.0,476.9 282.0,496.5 289.0,492.4 295.0,520.9 302.0,528.5 308.0,530.3 315.0,525.5 321.0,527.3 328.0,549.6 334.0,521.1 341.0,537.3 348.0,537.3 354.0,536.5 361.0,528.8 367.0,527.0 374.0,516.2 380.0,517.4 387.0,514.7 393.0,514.3 400.0,521.0 406.0,511.1 413.0,515.1 420.0,494.3 426.0,510.3 433.0,505.0 439.0,511.4 446.0,506.9 452.0,497.3 459.0,501.3 465.0,498.8 472.0,499.2 479.0,493.9 485.0,490.9 492.0,483.9 498.0,472.4 505.0,489.9 511.0,484.7 518.0,484.4 524.0,492.8 531.0,500.0 538.0,523.2 544.0,546.2 551.0,551.0 557.0,534.7 564.0,531.4 570.0,532.4 577.0,532.2 583.0,527.7 590.0,522.8 596.0,520.3 603.0,519.1 610.0,509.2 616.0,499.8 623.0,521.0 629.0,497.7 636.0,496.8 642.0,493.9 649.0,492.4 655.0,482.4 662.0,472.4 669.0,477.0 675.0,478.4 682.0,477.7 688.0,492.1 695.0,498.8 701.0,490.3 708.0,517.0 714.0,521.8 721.0,531.4 728.0,518.8 734.0,518.8 741.0,510.3 747.0,513.3 754.0,510.6 760.0,508.0 767.0,487.6 773.0,481.7 780.0,496.2 786.0,480.2 793.0,477.0 800.0,475.3 806.0,470.1 813.0,474.0 819.0,467.6 826.0,465.4 832.0,476.2 839.0,476.5 845.0,491.4 852.0,487.9 859.0,490.6 865.0,505.4 872.0,494.3 878.0,493.6 885.0,474.0 891.0,473.5 898.0,470.1 904.0,472.8 911.0,476.8 918.0,487.6 924.0,497.6 931.0,514.3 937.0,537.6 944.0,506.2 950.0,545.8 957.0,548.8 963.0,545.2 970.0,548.9 976.0,548.5 983.0,542.5 990.0,524.7 996.0,513.9 1003.0,517.0 1009.0,517.0 1016.0,523.2 1022.0,523.2 1029.0,531.7 1035.0,529.9 1042.0,521.3 1049.0,519.1 1055.0,507.7 1062.0,497.6 1068.0,479.9 1075.0,483.9 1081.0,481.4 1088.0,481.4 1094.0,479.5 1101.0,477.3 1108.0,469.4 1114.0,500.0 1121.0,494.8 1127.0,509.6 1134.0,539.1 1140.0,521.0 1147.0,508.4 1153.0,495.1 1160.0,494.6 1166.0,501.0 1173.0,494.8 1180.0,507.4 1186.0,505.1 1193.0,488.8 1199.0,483.9 1206.0,486.6 1212.0,479.5 1219.0,472.8 1225.0,470.1 1232.0,464.6 1239.0,490.3 1245.0,486.6 1252.0,486.6 1258.0,506.2 1265.0,498.3 1271.0,517.3 1278.0,514.8 1284.0,511.1 1291.0,503.2 1298.0,507.2 1304.0,504.0 1311.0,494.3 1317.0,520.0 1324.0,519.5 1330.0,512.6 1337.0,506.2 1343.0,491.4 1350.0,485.9 1356.0,483.2 1363.0,490.2 1370.0,481.7 1376.0,480.5 1383.0,491.4 1389.0,503.7 1396.0,502.9 1402.0,509.9 1409.0,512.1 1415.0,525.5 1422.0,521.3 1429.0,537.6 1435.0,521.0 1442.0,518.1 1448.0,509.9 1455.0,500.7 1461.0,503.5 1468.0,501.0 1474.0,498.5 1481.0,506.6" fill="none" stroke="#7E57C2" stroke-width="1.3" stroke-linejoin="round" stroke-linecap="round" />
</g>
<text transform="translate(1576,53.4) scale(0.9477,1)" font-size="15.3" fill="#131722" stroke="#131722" stroke-width="0.22" text-anchor="start" font-weight="normal" letter-spacing="0" >2950.00</text>
<text transform="translate(1576,90.4) scale(0.9477,1)" font-size="15.3" fill="#131722" stroke="#131722" stroke-width="0.22" text-anchor="start" font-weight="normal" letter-spacing="0" >2900.00</text>
<text transform="translate(1576,128.4) scale(0.9477,1)" font-size="15.3" fill="#131722" stroke="#131722" stroke-width="0.22" text-anchor="start" font-weight="normal" letter-spacing="0" >2850.00</text>
<text transform="translate(1576,166.4) scale(0.9477,1)" font-size="15.3" fill="#131722" stroke="#131722" stroke-width="0.22" text-anchor="start" font-weight="normal" letter-spacing="0" >2800.00</text>
<text transform="translate(1576,204.4) scale(0.9477,1)" font-size="15.3" fill="#131722" stroke="#131722" stroke-width="0.22" text-anchor="start" font-weight="normal" letter-spacing="0" >2750.00</text>
<text transform="translate(1576,242.4) scale(0.9477,1)" font-size="15.3" fill="#131722" stroke="#131722" stroke-width="0.22" text-anchor="start" font-weight="normal" letter-spacing="0" >2700.00</text>
<text transform="translate(1576,280.4) scale(0.9477,1)" font-size="15.3" fill="#131722" stroke="#131722" stroke-width="0.22" text-anchor="start" font-weight="normal" letter-spacing="0" >2650.00</text>
<text transform="translate(1576,317.4) scale(0.9477,1)" font-size="15.3" fill="#131722" stroke="#131722" stroke-width="0.22" text-anchor="start" font-weight="normal" letter-spacing="0" >2600.00</text>
<text transform="translate(1576,369.4) scale(0.9477,1)" font-size="15.3" fill="#131722" stroke="#131722" stroke-width="0.22" text-anchor="start" font-weight="normal" letter-spacing="0" >50.00</text>
<text transform="translate(1576,412.4) scale(0.9477,1)" font-size="15.3" fill="#131722" stroke="#131722" stroke-width="0.22" text-anchor="start" font-weight="normal" letter-spacing="0" >0.00</text>
<text transform="translate(1576,467.4) scale(0.9477,1)" font-size="15.3" fill="#131722" stroke="#131722" stroke-width="0.22" text-anchor="start" font-weight="normal" letter-spacing="0" >80.00</text>
<text transform="translate(1576,563.4) scale(0.9477,1)" font-size="15.3" fill="#131722" stroke="#131722" stroke-width="0.22" text-anchor="start" font-weight="normal" letter-spacing="0" >40.00</text>
<path d="M1566 64H1633.5Q1636 64 1636 66.5V82.5Q1636 85 1633.5 85H1566Z" fill="#F23645"/>
<text transform="translate(1576,80.0) scale(0.9477,1)" font-size="15.3" fill="#fff" stroke="#fff" stroke-width="0.3" text-anchor="start" font-weight="normal" letter-spacing="0" >2915.67</text>
<path d="M1566 374.2H1617.5Q1620 374.2 1620 376.7V392.5Q1620 395 1617.5 395H1566Z" fill="#2196F3"/>
<text transform="translate(1576,390.1) scale(0.9477,1)" font-size="15.3" fill="#fff" stroke="#fff" stroke-width="0.3" text-anchor="start" font-weight="normal" letter-spacing="0" >26.53</text>
<path d="M1566 496.1H1617.5Q1620 496.1 1620 498.6V514.4Q1620 516.9 1617.5 516.9H1566Z" fill="#7E57C2"/>
<text transform="translate(1576,512.0) scale(0.9477,1)" font-size="15.3" fill="#fff" stroke="#fff" stroke-width="0.3" text-anchor="start" font-weight="normal" letter-spacing="0" >61.49</text>
<text transform="translate(58.4,618.2) scale(0.9477,1)" font-size="15.3" fill="#131722" stroke="#131722" stroke-width="0.22" text-anchor="middle" font-weight="normal" letter-spacing="0" >25</text>
<text transform="translate(229.4,618.2) scale(0.9856,1)" font-size="15.3" fill="#131722" stroke="#131722" stroke-width="0.22" text-anchor="middle" font-weight="bold" letter-spacing="0" >2025</text>
<text transform="translate(360.4,618.2) scale(0.9477,1)" font-size="15.3" fill="#131722" stroke="#131722" stroke-width="0.22" text-anchor="middle" font-weight="normal" letter-spacing="0" >7</text>
<text transform="translate(478.4,618.2) scale(0.9477,1)" font-size="15.3" fill="#131722" stroke="#131722" stroke-width="0.22" text-anchor="middle" font-weight="normal" letter-spacing="0" >10</text>
<text transform="translate(602.4,618.2) scale(0.9477,1)" font-size="15.3" fill="#131722" stroke="#131722" stroke-width="0.22" text-anchor="middle" font-weight="normal" letter-spacing="0" >15</text>
<text transform="translate(720.4,618.2) scale(0.9477,1)" font-size="15.3" fill="#131722" stroke="#131722" stroke-width="0.22" text-anchor="middle" font-weight="normal" letter-spacing="0" >19</text>
<text transform="translate(844.4,618.2) scale(0.9477,1)" font-size="15.3" fill="#131722" stroke="#131722" stroke-width="0.22" text-anchor="middle" font-weight="normal" letter-spacing="0" >23</text>
<text transform="translate(969.4,618.2) scale(0.9477,1)" font-size="15.3" fill="#131722" stroke="#131722" stroke-width="0.22" text-anchor="middle" font-weight="normal" letter-spacing="0" >28</text>
<text transform="translate(1126.4,618.2) scale(0.9477,1)" font-size="15.3" fill="#131722" stroke="#131722" stroke-width="0.22" text-anchor="middle" font-weight="normal" letter-spacing="0" >Feb</text>
<text transform="translate(1251.4,618.2) scale(0.9477,1)" font-size="15.3" fill="#131722" stroke="#131722" stroke-width="0.22" text-anchor="middle" font-weight="normal" letter-spacing="0" >6</text>
<text transform="translate(1375.4,618.2) scale(0.9477,1)" font-size="15.3" fill="#131722" stroke="#131722" stroke-width="0.22" text-anchor="middle" font-weight="normal" letter-spacing="0" >11</text>
<text transform="translate(1493.4,618.2) scale(0.9477,1)" font-size="15.3" fill="#131722" stroke="#131722" stroke-width="0.22" text-anchor="middle" font-weight="normal" letter-spacing="0" >14</text>
<text transform="translate(23,38) scale(0.9477,1)" font-size="15.3" fill="#131722" stroke="#131722" stroke-width="0.22" text-anchor="start" font-weight="normal" letter-spacing="0.05" >Gold US Dollars per Ounce Spot Prices, 4h</text>
<text transform="translate(313,38) scale(0.9477,1)" font-size="15.3" fill="#131722" stroke="#131722" stroke-width="0.22" letter-spacing="0">O<tspan fill="#F23645" stroke="#F23645">2920.29</tspan></text>
<text transform="translate(384,38) scale(0.9477,1)" font-size="15.3" fill="#131722" stroke="#131722" stroke-width="0.22" letter-spacing="0">H<tspan fill="#F23645" stroke="#F23645">2920.89</tspan></text>
<text transform="translate(455,38) scale(0.9477,1)" font-size="15.3" fill="#131722" stroke="#131722" stroke-width="0.22" letter-spacing="0">L<tspan fill="#F23645" stroke="#F23645">2913.09</tspan></text>
<text transform="translate(524,38) scale(0.9477,1)" font-size="15.3" fill="#131722" stroke="#131722" stroke-width="0.22" letter-spacing="0">C<tspan fill="#F23645" stroke="#F23645">2915.67</tspan></text>
<text transform="translate(595,38) scale(0.9477,1)" font-size="15.3" fill="#F23645" stroke="#F23645" stroke-width="0.22" text-anchor="start" font-weight="normal" letter-spacing="0" >−4.62 (−0.16%)</text>
<text transform="translate(23,59) scale(0.9477,1)" font-size="15.3" fill="#131722" stroke="#131722" stroke-width="0.22" text-anchor="start" font-weight="normal" letter-spacing="0.22" >MA (20, close, 0)</text>
<text transform="translate(23,80) scale(0.9477,1)" font-size="15.3" fill="#131722" stroke="#131722" stroke-width="0.22" text-anchor="start" font-weight="normal" letter-spacing="0.22" >MA (100, close, 0)</text>
<text transform="translate(23,101) scale(0.9477,1)" font-size="15.3" fill="#131722" stroke="#131722" stroke-width="0.22" text-anchor="start" font-weight="normal" letter-spacing="0.22" >MA (200, close, 0)</text>
<text transform="translate(23,122) scale(0.9477,1)" font-size="15.3" fill="#131722" stroke="#131722" stroke-width="0.22" text-anchor="start" font-weight="normal" letter-spacing="0.22" >MA (55, close, 0)</text>
<text transform="translate(23,362) scale(0.9477,1)" font-size="15.3" fill="#131722" stroke="#131722" stroke-width="0.22" text-anchor="start" font-weight="normal" letter-spacing="0.15" >Mom (10, close)</text>
<text transform="translate(138.6,362) scale(0.9477,1)" font-size="15.3" fill="#2196F3" stroke="#2196F3" stroke-width="0.22" text-anchor="start" font-weight="normal" letter-spacing="0" >26.53</text>
<text transform="translate(23,475) scale(0.9477,1)" font-size="15.3" fill="#131722" stroke="#131722" stroke-width="0.22" text-anchor="start" font-weight="normal" letter-spacing="-0.37" >RSI (14)</text>
<text transform="translate(83.8,475) scale(0.9477,1)" font-size="15.3" fill="#7E57C2" stroke="#7E57C2" stroke-width="0.22" text-anchor="start" font-weight="normal" letter-spacing="0" >61.49</text>
<g fill="#131722"><path d="M13.1 645.9H22.9V657.7H17.8V650.6H13.1Z"/><circle cx="26.9" cy="648.3" r="2.5"/><path d="M30.8 645.9H37.1L33.2 657.7H26.9Z"/></g>
<text transform="translate(42.2,657.8) scale(1.0000,1)" font-size="14.6" fill="#131722" stroke="#131722" stroke-width="0.1" text-anchor="start" font-weight="normal" letter-spacing="0" textLength="87.3" lengthAdjust="spacingAndGlyphs">TradingView</text>
</svg></body></html>
